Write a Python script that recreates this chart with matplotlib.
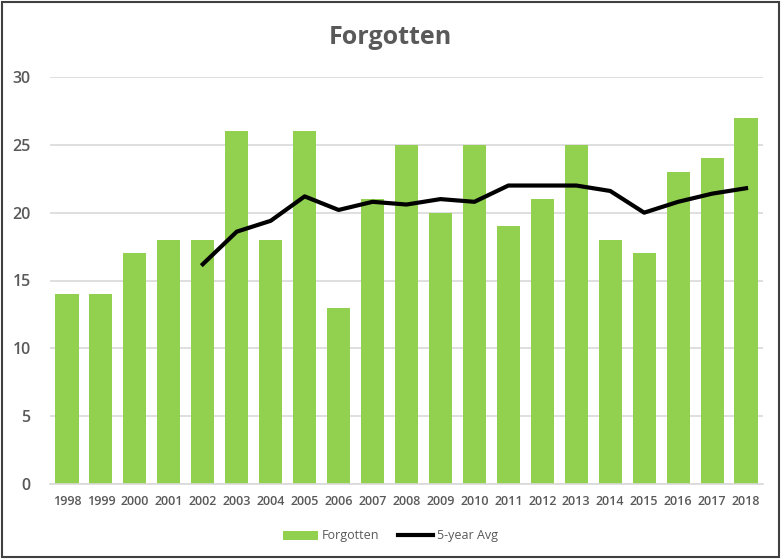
import matplotlib
matplotlib.use('Agg')
import matplotlib.pyplot as plt
from matplotlib.patches import Rectangle

years = ['1998', '1999', '2000', '2001', '2002', '2003', '2004', '2005', '2006', '2007',
         '2008', '2009', '2010', '2011', '2012', '2013', '2014', '2015', '2016', '2017', '2018']
forgotten = [14, 14, 17, 18, 18, 26, 18, 26, 13, 21, 25, 20, 25, 19, 21, 25, 18, 17, 23, 24, 27]
# 5-year average starts at 2002
avg_years = years[4:]
avg_5yr = [16.2, 18.6, 19.4, 21.2, 20.2, 20.8, 20.6, 21.0, 20.8, 22.0, 22.0, 22.0,
           21.6, 20.0, 20.8, 21.4, 21.8]

plt.rcParams['font.family'] = ['Open Sans', 'DejaVu Sans']
grey = '#595959'

fig = plt.figure(figsize=(7.81, 5.59), dpi=100)
ax = fig.add_axes([50 / 781, 1 - 484 / 559, 713 / 781, 407 / 559])

x = list(range(len(years)))
bars = ax.bar(x, forgotten, width=0.68, color='#92D050', zorder=2, label='Forgotten')
line, = ax.plot([years.index(y) for y in avg_years], avg_5yr, color='black', lw=3,
                zorder=3, label='5-year Avg', solid_joinstyle='round')

ax.set_xlim(-0.5, len(years) - 0.5)
ax.set_ylim(0, 30)
ax.set_yticks(range(0, 31, 5))
ax.set_xticks(x)
ax.set_xticklabels(years, fontsize=9, color=grey, fontweight='semibold')
ax.tick_params(axis='y', labelsize=11.5, colors=grey, length=0, pad=14)
ax.tick_params(axis='x', length=0, pad=8)
for lbl in ax.get_yticklabels():
    lbl.set_fontweight('semibold')
ax.grid(axis='y', color='#D9D9D9', lw=1.2, zorder=0)
for s in ['top', 'right', 'left']:
    ax.spines[s].set_visible(False)
ax.spines['bottom'].set_color('#D9D9D9')
ax.spines['bottom'].set_linewidth(1.2)

fig.text(0.5, 1 - 37 / 559, 'Forgotten', ha='center', va='center',
         fontsize=18, fontweight='bold', color=grey)

fig.legend([bars, line], ['Forgotten', '5-year Avg'], loc='center',
           bbox_to_anchor=(0.5, 1 - 536 / 559), ncol=2, frameon=False,
           fontsize=9, labelcolor=grey, handlelength=2.8, columnspacing=1.5,
           handletextpad=0.3)

fig.patches.append(Rectangle((0.002, 0.003), 0.996, 0.994, transform=fig.transFigure,
                             fill=False, edgecolor='#404040', lw=1.5))

fig.savefig('out.png', dpi=100)
